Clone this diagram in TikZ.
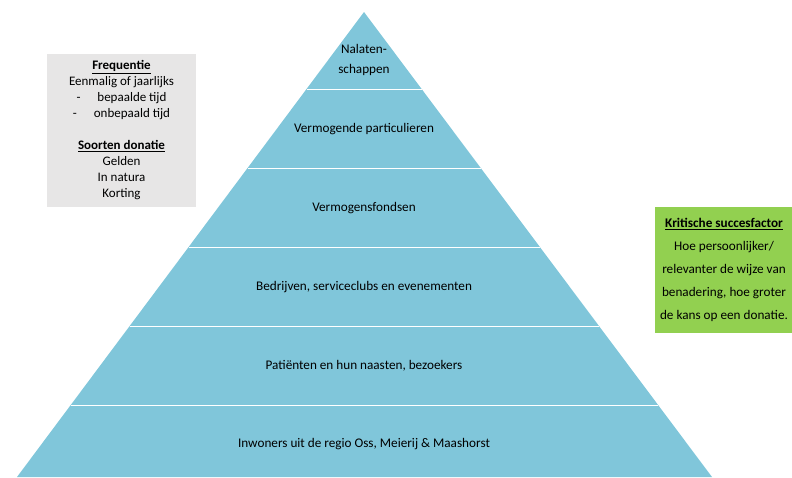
\documentclass[tikz,border=0pt]{standalone}
\usepackage{fontspec}
\setmainfont{Carlito}
\usepackage{xcolor}
\usetikzlibrary{positioning}

\definecolor{layerblue}{RGB}{128,198,218}
\definecolor{infogray}{RGB}{231,230,230}
\definecolor{keygreen}{RGB}{146,208,80}

\begin{document}
\begin{tikzpicture}[
    x=1pt, y=-1pt,
    layer/.style={align=center, font=\fontsize{13.2}{20}\selectfont},
    sidebox/.style={rectangle, inner sep=0pt, align=center},
    sep/.style={draw=white, line width=1pt}
]
\useasboundingbox (0,0) rectangle (792,477);

% Pyramid
\fill[layerblue] (364,12) -- (712,477) -- (17,477) -- cycle;
\foreach \y in {89,168,247,326,405}
    \draw[sep] ({364-0.7462*(\y-12)},\y) -- ({364+0.7484*(\y-12)},\y);

% Layers
\node[layer] (legacy) at (364,60) {Nalaten-\\schappen};
\node[layer] (wealthy) at (364,129) {Vermogende particulieren};
\node[layer] (funds) at (364,208) {Vermogensfondsen};
\node[layer] (business) at (364,287) {Bedrijven, serviceclubs en evenementen};
\node[layer] (patients) at (364,366) {Pati\"enten en hun naasten, bezoekers};
\node[layer] (residents) at (364,444) {Inwoners uit de regio Oss, Meierij \& Maashorst};

% Info boxes
\node[sidebox, fill=infogray, minimum width=149pt, minimum height=153pt,
      font=\fontsize{13}{16}\selectfont] (info) at (121.5,130.5)
    {\underline{\textbf{Frequentie}}\\
     Eenmalig of jaarlijks\\
     -\hspace{1.3em}bepaalde tijd\\
     -\hspace{1.3em}onbepaald tijd\\[16pt]
     \underline{\textbf{Soorten donatie}}\\
     Gelden\\
     In natura\\
     Korting};
\node[sidebox, fill=keygreen, minimum width=138pt, minimum height=126pt,
      font=\fontsize{13.2}{23}\selectfont] (factor) at (724,270)
    {\underline{\textbf{Kritische succesfactor}}\\
     Hoe persoonlijker/\\
     relevanter de wijze van\\
     benadering, hoe groter\\
     de kans op een donatie.};

\end{tikzpicture}
\end{document}
